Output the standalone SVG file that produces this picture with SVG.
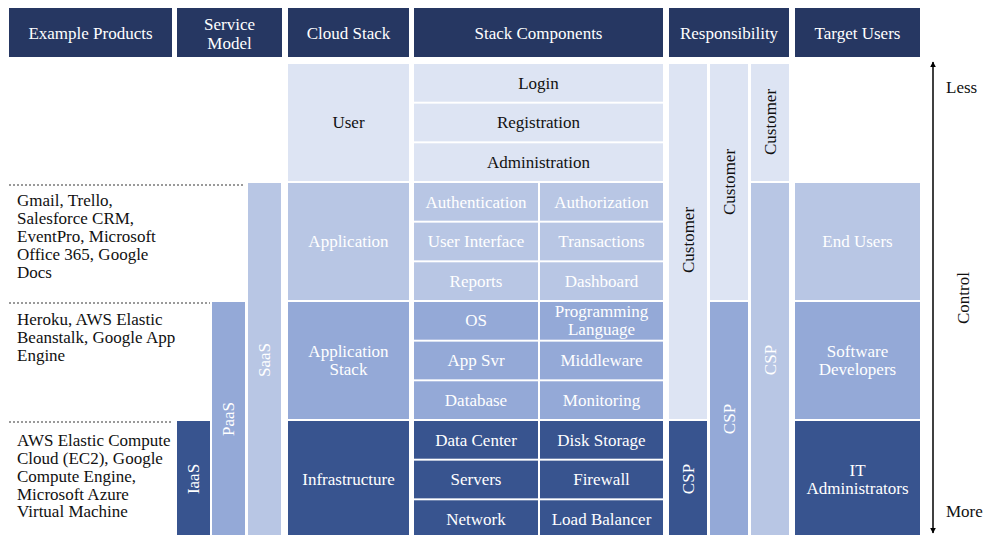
<svg xmlns="http://www.w3.org/2000/svg" width="984" height="535" viewBox="0 0 984 535">
  <style>
    text { font-family: "Liberation Serif", "Times New Roman", serif; font-size: 17px; }
    .hd { fill: #263762; }
    .c1 { fill: #dde4f3; }
    .c2 { fill: #b8c6e4; }
    .c3 { fill: #94a9d7; }
    .c4 { fill: #38548f; }
    .tw { fill: #ffffff; text-anchor: middle; }
    .tk { fill: #111111; text-anchor: middle; }
    .tl { fill: #111111; }
    .dots { stroke: #9a9a9a; stroke-width: 2; stroke-dasharray: 2 2; fill: none; }
    .axis { stroke: #000000; stroke-width: 1.5; fill: none; }
  </style>
  <defs>
    <marker id="head" viewBox="0 0 10 10" refX="9" refY="5" markerWidth="6" markerHeight="6" orient="auto-start-reverse" markerUnits="userSpaceOnUse">
      <path d="M0,0 L10,5 L0,10 Z" fill="#000000"/>
    </marker>
  </defs>

  <!-- Column headers -->
  <g id="headers">
    <rect class="hd" x="9" y="8" width="163" height="49"/>
    <text class="tw" x="90.5" y="38.5">Example Products</text>
    <rect class="hd" x="177" y="8" width="105" height="49"/>
    <text class="tw" x="229.5" y="29.5">Service</text>
    <text class="tw" x="229.5" y="48.5">Model</text>
    <rect class="hd" x="288" y="8" width="121" height="49"/>
    <text class="tw" x="348.5" y="38.5">Cloud Stack</text>
    <rect class="hd" x="414" y="8" width="249" height="49"/>
    <text class="tw" x="538.5" y="38.5">Stack Components</text>
    <rect class="hd" x="669" y="8" width="120" height="49"/>
    <text class="tw" x="729" y="38.5">Responsibility</text>
    <rect class="hd" x="795" y="8" width="125" height="49"/>
    <text class="tw" x="857.5" y="38.5">Target Users</text>
  </g>

  <!-- Example products -->
  <g id="products-saas">
    <text class="tl" x="17" y="205.5">Gmail, Trello,</text>
    <text class="tl" x="17" y="223.5">Salesforce CRM,</text>
    <text class="tl" x="17" y="241.5">EventPro, Microsoft</text>
    <text class="tl" x="17" y="260">Office 365, Google</text>
    <text class="tl" x="17" y="278">Docs</text>
  </g>
  <g id="products-paas">
    <text class="tl" x="17" y="324.5">Heroku, AWS Elastic</text>
    <text class="tl" x="17" y="342.5">Beanstalk, Google App</text>
    <text class="tl" x="17" y="360.5">Engine</text>
  </g>
  <g id="products-iaas">
    <text class="tl" x="17" y="445.5">AWS Elastic Compute</text>
    <text class="tl" x="17" y="463.5">Cloud (EC2), Google</text>
    <text class="tl" x="17" y="481.5">Compute Engine,</text>
    <text class="tl" x="17" y="499.5">Microsoft Azure</text>
    <text class="tl" x="17" y="517">Virtual Machine</text>
  </g>

  <!-- Row separators -->
  <g id="separators">
    <line class="dots" x1="9" y1="185" x2="245" y2="185"/>
    <line class="dots" x1="9" y1="303" x2="210" y2="303"/>
    <line class="dots" x1="9" y1="422" x2="172" y2="422"/>
  </g>

  <!-- Service models -->
  <g id="model-iaas">
    <rect class="c4" x="177" y="421" width="33" height="117"/>
    <text class="tw" transform="translate(193.5,479) rotate(-90)" y="5.5">IaaS</text>
  </g>
  <g id="model-paas">
    <rect class="c3" x="212" y="302" width="33" height="236"/>
    <text class="tw" transform="translate(228.5,419) rotate(-90)" y="5.5">PaaS</text>
  </g>
  <g id="model-saas">
    <rect class="c2" x="248" y="183" width="33" height="355"/>
    <text class="tw" transform="translate(264.5,360) rotate(-90)" y="5.5">SaaS</text>
  </g>

  <!-- Cloud stack layers -->
  <g id="stack-user">
    <rect class="c1" x="288" y="64" width="121" height="117"/>
    <text class="tk" x="348.5" y="128">User</text>
  </g>
  <g id="stack-application">
    <rect class="c2" x="288" y="183" width="121" height="117"/>
    <text class="tw" x="348.5" y="247">Application</text>
  </g>
  <g id="stack-appstack">
    <rect class="c3" x="288" y="302" width="121" height="117"/>
    <text class="tw" x="348.5" y="357">Application</text>
    <text class="tw" x="348.5" y="375">Stack</text>
  </g>
  <g id="stack-infrastructure">
    <rect class="c4" x="288" y="421" width="121" height="117"/>
    <text class="tw" x="348.5" y="485">Infrastructure</text>
  </g>

  <!-- Stack components: user layer -->
  <g id="comp-login">
    <rect class="c1" x="414" y="64" width="249" height="37.7"/>
    <text class="tk" x="538.5" y="88.5">Login</text>
  </g>
  <g id="comp-registration">
    <rect class="c1" x="414" y="103.65" width="249" height="37.7"/>
    <text class="tk" x="538.5" y="128">Registration</text>
  </g>
  <g id="comp-administration">
    <rect class="c1" x="414" y="143.3" width="249" height="37.7"/>
    <text class="tk" x="538.5" y="167.5">Administration</text>
  </g>

  <!-- Stack components: application layer -->
  <g id="comp-authentication">
    <rect class="c2" x="414" y="183" width="124" height="37.7"/>
    <text class="tw" x="476" y="207.5">Authentication</text>
  </g>
  <g id="comp-authorization">
    <rect class="c2" x="540" y="183" width="123" height="37.7"/>
    <text class="tw" x="601.5" y="207.5">Authorization</text>
  </g>
  <g id="comp-ui">
    <rect class="c2" x="414" y="222.65" width="124" height="37.7"/>
    <text class="tw" x="476" y="247">User Interface</text>
  </g>
  <g id="comp-transactions">
    <rect class="c2" x="540" y="222.65" width="123" height="37.7"/>
    <text class="tw" x="601.5" y="247">Transactions</text>
  </g>
  <g id="comp-reports">
    <rect class="c2" x="414" y="262.3" width="124" height="37.7"/>
    <text class="tw" x="476" y="286.5">Reports</text>
  </g>
  <g id="comp-dashboard">
    <rect class="c2" x="540" y="262.3" width="123" height="37.7"/>
    <text class="tw" x="601.5" y="286.5">Dashboard</text>
  </g>

  <!-- Stack components: application stack layer -->
  <g id="comp-os">
    <rect class="c3" x="414" y="302" width="124" height="37.7"/>
    <text class="tw" x="476" y="326">OS</text>
  </g>
  <g id="comp-language">
    <rect class="c3" x="540" y="302" width="123" height="37.7"/>
    <text class="tw" x="601.5" y="317">Programming</text>
    <text class="tw" x="601.5" y="335">Language</text>
  </g>
  <g id="comp-appsvr">
    <rect class="c3" x="414" y="341.65" width="124" height="37.7"/>
    <text class="tw" x="476" y="365.5">App Svr</text>
  </g>
  <g id="comp-middleware">
    <rect class="c3" x="540" y="341.65" width="123" height="37.7"/>
    <text class="tw" x="601.5" y="365.5">Middleware</text>
  </g>
  <g id="comp-database">
    <rect class="c3" x="414" y="381.3" width="124" height="37.7"/>
    <text class="tw" x="476" y="405.5">Database</text>
  </g>
  <g id="comp-monitoring">
    <rect class="c3" x="540" y="381.3" width="123" height="37.7"/>
    <text class="tw" x="601.5" y="405.5">Monitoring</text>
  </g>

  <!-- Stack components: infrastructure layer -->
  <g id="comp-datacenter">
    <rect class="c4" x="414" y="421" width="124" height="37.7"/>
    <text class="tw" x="476" y="445.5">Data Center</text>
  </g>
  <g id="comp-disk">
    <rect class="c4" x="540" y="421" width="123" height="37.7"/>
    <text class="tw" x="601.5" y="445.5">Disk Storage</text>
  </g>
  <g id="comp-servers">
    <rect class="c4" x="414" y="460.65" width="124" height="37.7"/>
    <text class="tw" x="476" y="484.5">Servers</text>
  </g>
  <g id="comp-firewall">
    <rect class="c4" x="540" y="460.65" width="123" height="37.7"/>
    <text class="tw" x="601.5" y="484.5">Firewall</text>
  </g>
  <g id="comp-network">
    <rect class="c4" x="414" y="500.3" width="124" height="37.7"/>
    <text class="tw" x="476" y="524.5">Network</text>
  </g>
  <g id="comp-loadbalancer">
    <rect class="c4" x="540" y="500.3" width="123" height="37.7"/>
    <text class="tw" x="601.5" y="524.5">Load Balancer</text>
  </g>

  <!-- Responsibility split, one column per service model -->
  <g id="resp-iaas">
    <rect class="c1" x="669" y="64" width="38" height="355"/>
    <text class="tk" transform="translate(688,240) rotate(-90)" y="5.5">Customer</text>
    <rect class="c4" x="669" y="421" width="38" height="117"/>
    <text class="tw" transform="translate(688,479) rotate(-90)" y="5.5">CSP</text>
  </g>
  <g id="resp-paas">
    <rect class="c1" x="710" y="64" width="38" height="236"/>
    <text class="tk" transform="translate(729,182) rotate(-90)" y="5.5">Customer</text>
    <rect class="c3" x="710" y="302" width="38" height="236"/>
    <text class="tw" transform="translate(729,419) rotate(-90)" y="5.5">CSP</text>
  </g>
  <g id="resp-saas">
    <rect class="c1" x="751" y="64" width="38" height="117"/>
    <text class="tk" transform="translate(770,122) rotate(-90)" y="5.5">Customer</text>
    <rect class="c2" x="751" y="183" width="38" height="355"/>
    <text class="tw" transform="translate(770,360) rotate(-90)" y="5.5">CSP</text>
  </g>

  <!-- Target users -->
  <g id="users-end">
    <rect class="c2" x="795" y="183" width="125" height="117"/>
    <text class="tw" x="857.5" y="247">End Users</text>
  </g>
  <g id="users-dev">
    <rect class="c3" x="795" y="302" width="125" height="117"/>
    <text class="tw" x="857.5" y="357">Software</text>
    <text class="tw" x="857.5" y="375">Developers</text>
  </g>
  <g id="users-it">
    <rect class="c4" x="795" y="421" width="125" height="117"/>
    <text class="tw" x="857.5" y="476">IT</text>
    <text class="tw" x="857.5" y="494">Administrators</text>
  </g>

  <!-- Control axis -->
  <g id="connectors">
    <line class="axis" x1="933" y1="62" x2="933" y2="533" marker-start="url(#head)" marker-end="url(#head)"/>
  </g>
  <g id="axis-labels">
    <text class="tl" x="946" y="93">Less</text>
    <text class="tl" x="946" y="517">More</text>
    <text class="tk" transform="translate(963,298) rotate(-90)" y="5.5">Control</text>
  </g>
</svg>
